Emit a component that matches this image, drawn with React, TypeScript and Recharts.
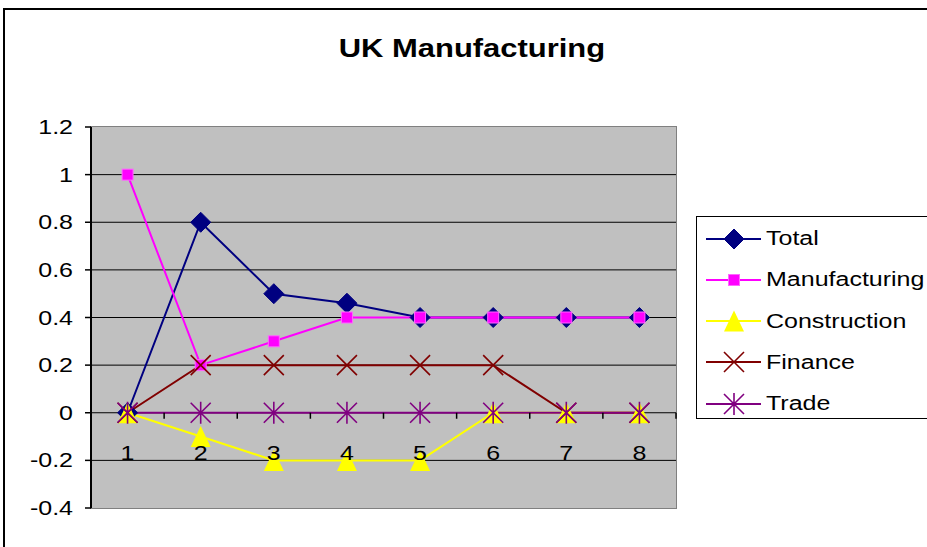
import { LineChart, Line, XAxis, YAxis, CartesianGrid, Legend } from 'recharts';

// chart values
const CATEGORIES = ['1', '2', '3', '4', '5', '6', '7', '8'];
const TOTAL = [0, 0.8, 0.5, 0.46, 0.4, 0.4, 0.4, 0.4];
const MANUFACTURING = [1, 0.2, 0.3, 0.4, 0.4, 0.4, 0.4, 0.4];
const CONSTRUCTION = [0, -0.1, -0.2, -0.2, -0.2, 0, 0, 0];
const FINANCE = [0, 0.2, 0.2, 0.2, 0.2, 0.2, 0, 0];
const TRADE = [0, 0, 0, 0, 0, 0, 0, 0];

const Y_TICKS = [-0.4, -0.2, 0, 0.2, 0.4, 0.6, 0.8, 1, 1.2];
const GRID_VALUES = [-0.2, 0, 0.2, 0.4, 0.6, 0.8, 1];
const Y_MIN = -0.4;
const Y_MAX = 1.2;

type Shape = 'diamond' | 'square' | 'triangle' | 'cross' | 'star';

const SERIES: { key: string; name: string; color: string; shape: Shape; values: number[] }[] = [
    { key: 'total', name: 'Total', color: '#000080', shape: 'diamond', values: TOTAL },
    { key: 'manufacturing', name: 'Manufacturing', color: '#FF00FF', shape: 'square', values: MANUFACTURING },
    { key: 'construction', name: 'Construction', color: '#FFFF00', shape: 'triangle', values: CONSTRUCTION },
    { key: 'finance', name: 'Finance', color: '#800000', shape: 'cross', values: FINANCE },
    { key: 'trade', name: 'Trade', color: '#800080', shape: 'star', values: TRADE },
];

const data = CATEGORIES.map((cat, i) => {
    const row: Record<string, string | number> = { cat };
    SERIES.forEach((s) => {
        row[s.key] = s.values[i];
    });
    return row;
});

// layout
const W = 927;
const H = 547;
const PLOT_LEFT = 91;
const PLOT_RIGHT = 676;
const PLOT_TOP = 127;
const PLOT_BOTTOM = 508;
const ZERO_Y = PLOT_TOP + ((PLOT_BOTTOM - PLOT_TOP) * Y_MAX) / (Y_MAX - Y_MIN);
const HALF_BAND = (PLOT_RIGHT - PLOT_LEFT) / CATEGORIES.length / 2;
const FONT = '"Liberation Sans", Arial, sans-serif';
const STRETCH = 1.25;

function Marker({ shape, color, cx, cy }: { shape: Shape; color: string; cx: number; cy: number }) {
    switch (shape) {
        case 'diamond':
            return (
                <polygon
                    points={`${cx},${cy - 10} ${cx + 10},${cy} ${cx},${cy + 10} ${cx - 10},${cy}`}
                    fill={color}
                    stroke={color}
                />
            );
        case 'square':
            return <rect x={cx - 5.5} y={cy - 5.5} width={11} height={11} fill={color} stroke="#ff66ff" strokeWidth={1} />;
        case 'triangle':
            return (
                <polygon points={`${cx},${cy - 10.5} ${cx + 10},${cy + 10.5} ${cx - 10},${cy + 10.5}`} fill={color} />
            );
        case 'cross':
            return (
                <path
                    d={`M${cx - 10},${cy - 10}L${cx + 10},${cy + 10}M${cx + 10},${cy - 10}L${cx - 10},${cy + 10}`}
                    stroke={color}
                    strokeWidth={1.6}
                    fill="none"
                />
            );
        default:
            return (
                <path
                    d={`M${cx - 10},${cy - 10}L${cx + 10},${cy + 10}M${cx + 10},${cy - 10}L${cx - 10},${cy + 10}M${cx},${cy - 11}L${cx},${cy + 11}`}
                    stroke={color}
                    strokeWidth={1.6}
                    fill="none"
                />
            );
    }
}

function XTick(props: any) {
    const { x, payload, index } = props;
    const last = index === CATEGORIES.length - 1;
    return (
        <g>
            <line x1={x - HALF_BAND} x2={x - HALF_BAND} y1={ZERO_Y} y2={ZERO_Y + 6} stroke="#000" strokeWidth={1.5} />
            {last && (
                <line x1={x + HALF_BAND} x2={x + HALF_BAND} y1={ZERO_Y} y2={ZERO_Y + 6} stroke="#000" strokeWidth={1.5} />
            )}
            <text
                transform={`translate(${x},${ZERO_Y + 40}) scale(${STRETCH},1)`}
                textAnchor="middle"
                dy="0.355em"
                fontSize={20}
                fontFamily={FONT}
                fill="#000"
            >
                {payload.value}
            </text>
        </g>
    );
}

function YTick(props: any) {
    const { x, y, payload } = props;
    return (
        <text
            transform={`translate(${x},${y}) scale(${STRETCH},1)`}
            textAnchor="end"
            dy="0.355em"
            fontSize={20}
            fontFamily={FONT}
            fill="#000"
        >
            {payload.value}
        </text>
    );
}

function LegendBox() {
    return (
        <div
            style={{
                boxSizing: 'border-box',
                width: 240,
                height: 203,
                border: '1.5px solid #000',
                background: '#fff',
                paddingTop: 1,
                fontFamily: FONT,
            }}
        >
            {SERIES.map((s) => (
                <div key={s.key} style={{ height: 41.25, display: 'flex', alignItems: 'center' }}>
                    <svg width={60} height={24} style={{ marginLeft: 9, flexShrink: 0 }}>
                        <line x1={0} x2={55} y1={12} y2={12} stroke={s.color} strokeWidth={2} />
                        <Marker shape={s.shape} color={s.color} cx={28} cy={12} />
                    </svg>
                    <span
                        style={{
                            display: 'inline-block',
                            fontSize: 20,
                            transform: `scaleX(${STRETCH})`,
                            transformOrigin: 'left center',
                            whiteSpace: 'nowrap',
                            color: '#000',
                        }}
                    >
                        {s.name}
                    </span>
                </div>
            ))}
        </div>
    );
}

export default function App() {
    return (
        <div
            style={{
                position: 'absolute',
                left: 0,
                top: 0,
                width: W,
                height: H,
                overflow: 'hidden',
                background: '#fff',
                fontFamily: FONT,
            }}
        >
            {/* chart area border, runs off the right and bottom edges */}
            <div
                style={{
                    position: 'absolute',
                    left: 3,
                    top: 8,
                    width: 1000,
                    height: 1000,
                    border: '2px solid #000',
                }}
            />
            {/* plot area background */}
            <div
                style={{
                    position: 'absolute',
                    left: PLOT_LEFT - 1,
                    top: PLOT_TOP - 1,
                    width: PLOT_RIGHT - PLOT_LEFT + 2,
                    height: PLOT_BOTTOM - PLOT_TOP + 2,
                    boxSizing: 'border-box',
                    border: '1.5px solid #808080',
                    background: '#C0C0C0',
                }}
            />
            <div
                style={{
                    position: 'absolute',
                    left: 0,
                    top: 33,
                    width: 944,
                    textAlign: 'center',
                    lineHeight: '30px',
                }}
            >
                <span
                    style={{
                        display: 'inline-block',
                        fontSize: 26,
                        fontWeight: 'bold',
                        transform: 'scaleX(1.19)',
                        color: '#000',
                    }}
                >
                    UK Manufacturing
                </span>
            </div>
            <LineChart
                width={W}
                height={H}
                data={data}
                margin={{ top: PLOT_TOP, right: W - PLOT_RIGHT, bottom: 9, left: 0 }}
            >
                <CartesianGrid horizontalValues={GRID_VALUES} vertical={false} stroke="#000" strokeWidth={1} />
                <XAxis
                    dataKey="cat"
                    height={30}
                    axisLine={false}
                    tickLine={false}
                    tick={<XTick />}
                    interval={0}
                    padding={{ left: HALF_BAND, right: HALF_BAND }}
                />
                <YAxis
                    width={PLOT_LEFT}
                    domain={[Y_MIN, Y_MAX]}
                    ticks={Y_TICKS}
                    interval={0}
                    tickSize={6}
                    tickMargin={12}
                    axisLine={{ stroke: '#000', strokeWidth: 2 }}
                    tickLine={{ stroke: '#000', strokeWidth: 1.5 }}
                    tick={<YTick />}
                    allowDataOverflow
                />
                <Legend
                    layout="vertical"
                    align="center"
                    verticalAlign="middle"
                    wrapperStyle={{ left: 696, top: 216, width: 240 }}
                    content={() => <LegendBox />}
                />
                {SERIES.map((s) => (
                    <Line
                        key={s.key}
                        type="linear"
                        dataKey={s.key}
                        name={s.name}
                        stroke={s.color}
                        strokeWidth={2}
                        isAnimationActive={false}
                        activeDot={false}
                        dot={(p: any) => (
                            <g key={`${s.key}-${p.index}`}>
                                <Marker shape={s.shape} color={s.color} cx={p.cx} cy={p.cy} />
                            </g>
                        )}
                    />
                ))}
            </LineChart>
        </div>
    );
}
